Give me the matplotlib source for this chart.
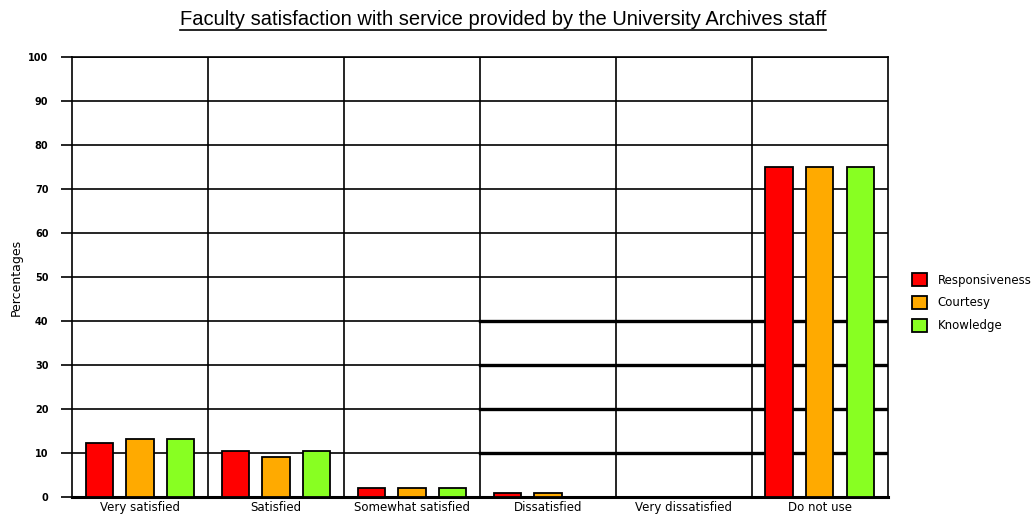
import matplotlib
matplotlib.use("Agg")
import matplotlib.pyplot as plt
import numpy as np

categories = ["Very satisfied", "Satisfied", "Somewhat satisfied", "Dissatisfied",
              "Very dissatisfied", "Do not use"]
series = ["Responsiveness", "Courtesy", "Knowledge"]
responsiveness = [12.3, 10.4, 2, 1, 0, 75]
courtesy = [13.2, 9.1, 2, 1, 0, 75]
knowledge = [13.2, 10.4, 2, 0, 0, 75]
colors = ["#ff0000", "#ffaa00", "#88ff22"]
yticks = [0, 10, 20, 30, 40, 50, 60, 70, 80, 90, 100]

fig = plt.figure(figsize=(10.36, 5.18), dpi=100)
ax = fig.add_axes([0.0695, 0.0405, 0.7875, 0.8495])

n = len(categories)
ax.set_xlim(0, n)
ax.set_ylim(0, 100)

# grid lines
for y in yticks[1:]:
    ax.axhline(y, color="black", lw=1.2, zorder=1)
for y in [10, 20, 30, 40]:
    ax.axhline(y, xmin=0.5, xmax=1.0, color="black", lw=2.4, zorder=1)
for x in range(1, n):
    ax.axvline(x, color="black", lw=1.2, zorder=1)

x = np.arange(n)
offsets = [0.2, 0.5, 0.8]
for vals, off, c, name in zip([responsiveness, courtesy, knowledge], offsets, colors, series):
    ax.bar(x + off, vals, width=0.2, color=c, edgecolor="black", linewidth=1.3,
           zorder=3, label=name)

ax.set_xticks(x + 0.5)
ax.set_xticklabels(categories, fontsize=8.5)
ax.tick_params(axis="x", length=0, pad=3)
ax.set_yticks(yticks)
ax.set_yticklabels([str(v) for v in yticks], fontsize=7, fontweight="bold")
ax.tick_params(axis="y", length=8, width=1.2, direction="out", pad=9)
for s in ax.spines.values():
    s.set_linewidth(1.2)
ax.spines["bottom"].set_linewidth(2.2)
ax.set_ylabel("Percentages", fontsize=9, labelpad=4)

leg = ax.legend(loc="center left", bbox_to_anchor=(1.024, 0.442), frameon=False,
                fontsize=8.5, handlelength=1.25, handleheight=1.35, labelspacing=0.78,
                handletextpad=0.9, borderaxespad=0)
for p in leg.get_patches():
    p.set_linewidth(1.3)

title = fig.text(0.4855, 0.962, "Faculty satisfaction with service provided by the University Archives staff",
                 ha="center", va="center", fontsize=14.5, family="Liberation Sans")
fig.canvas.draw()
bb = title.get_window_extent().transformed(fig.transFigure.inverted())
fig.add_artist(plt.Line2D([bb.x0, bb.x1], [bb.y0 - 0.002, bb.y0 - 0.002],
                          transform=fig.transFigure, color="black", lw=1.2))

fig.savefig("out.png", dpi=100)
